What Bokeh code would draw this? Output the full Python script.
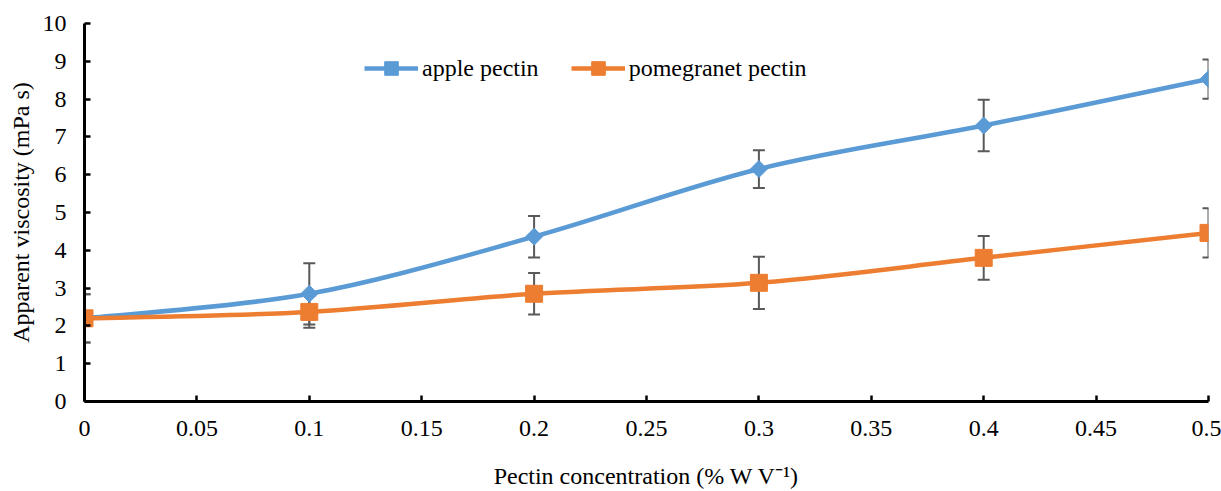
import numpy as np
from bokeh.plotting import figure
from bokeh.models import (ColumnDataSource, Whisker, TeeHead, Legend, LegendItem,
                          FixedTicker, NumeralTickFormatter, Range1d)
from bokeh.embed import file_html
from bokeh.resources import INLINE

# ---- data ----
concentration = [0.0, 0.1, 0.2, 0.3, 0.4, 0.5]
apple = [2.20, 2.85, 4.36, 6.15, 7.30, 8.53]
apple_err = [0.64, 0.81, 0.55, 0.50, 0.68, 0.52]
pomegranate = [2.20, 2.37, 2.85, 3.14, 3.80, 4.46]
pomegranate_err = [0.64, 0.42, 0.55, 0.69, 0.58, 0.65]
x_ticks = [0, 0.05, 0.1, 0.15, 0.2, 0.25, 0.3, 0.35, 0.4, 0.45, 0.5]
y_ticks = list(range(0, 11))

BLUE = "#5B9BD5"
ORANGE = "#ED7D31"
ERR = "#595959"
FONT = "Liberation Serif"
FS = "24px"


def bezier_source(xs, ys):
    """Smooth (Catmull-Rom style) Bezier segments through the data points."""
    xs = np.asarray(xs, float)
    ys = np.asarray(ys, float)
    n = len(xs)
    d = dict(x0=[], y0=[], x1=[], y1=[], cx0=[], cy0=[], cx1=[], cy1=[])
    for i in range(n - 1):
        im = max(i - 1, 0)
        ip2 = min(i + 2, n - 1)
        d["x0"].append(xs[i]); d["y0"].append(ys[i])
        d["x1"].append(xs[i + 1]); d["y1"].append(ys[i + 1])
        d["cx0"].append(xs[i] + (xs[i + 1] - xs[im]) / 6)
        d["cy0"].append(ys[i] + (ys[i + 1] - ys[im]) / 6)
        d["cx1"].append(xs[i + 1] - (xs[ip2] - xs[i]) / 6)
        d["cy1"].append(ys[i + 1] - (ys[ip2] - ys[i]) / 6)
    return ColumnDataSource(d)


p = figure(width=1221, height=491, output_backend="svg", toolbar_location=None,
           x_range=Range1d(0, 0.5), y_range=Range1d(0, 10),
           min_border_left=84, min_border_right=13, min_border_top=23,
           min_border_bottom=90)
p.outline_line_color = None
p.xgrid.visible = False
p.ygrid.visible = False
p.background_fill_color = "white"

# error bars
for vals, errs in ((apple, apple_err), (pomegranate, pomegranate_err)):
    src = ColumnDataSource(dict(
        x=concentration,
        upper=[v + e for v, e in zip(vals, errs)],
        lower=[v - e for v, e in zip(vals, errs)]))
    w = Whisker(base="x", upper="upper", lower="lower", source=src,
                line_color=ERR, line_width=2,
                upper_head=TeeHead(size=12, line_color=ERR, line_width=2),
                lower_head=TeeHead(size=12, line_color=ERR, line_width=2))
    p.add_layout(w)

# apple
a_line = p.bezier(x0="x0", y0="y0", x1="x1", y1="y1", cx0="cx0", cy0="cy0",
                  cx1="cx1", cy1="cy1", source=bezier_source(concentration, apple),
                  line_color=BLUE, line_width=4.5)
a_pts = p.scatter(concentration, apple, marker="square", angle=np.pi / 4, size=12,
                  fill_color=BLUE, line_color=BLUE)
# pomegranate
p_line = p.bezier(x0="x0", y0="y0", x1="x1", y1="y1", cx0="cx0", cy0="cy0",
                  cx1="cx1", cy1="cy1", source=bezier_source(concentration, pomegranate),
                  line_color=ORANGE, line_width=4.5)
p_pts = p.scatter(concentration, pomegranate, marker="square", size=17,
                  fill_color=ORANGE, line_color=ORANGE)

legend = Legend(items=[LegendItem(label="apple pectin", renderers=[a_line, a_pts]),
                       LegendItem(label="pomegranet pectin", renderers=[p_line, p_pts])],
                orientation="horizontal", location=(280, 316),
                glyph_width=54, glyph_height=34, label_height=24, label_standoff=4,
                spacing=32, padding=0, margin=0,
                border_line_alpha=0, background_fill_alpha=0,
                label_text_font=FONT, label_text_font_size=FS,
                label_text_color="#000000")
p.add_layout(legend)

# axes
p.xaxis.ticker = FixedTicker(ticks=x_ticks)
p.xaxis.formatter = NumeralTickFormatter(format="0.[00]")
p.yaxis.ticker = FixedTicker(ticks=y_ticks)
for ax in (p.xaxis, p.yaxis):
    ax.axis_line_color = "black"
    ax.axis_line_width = 3
    ax.major_tick_line_color = "black"
    ax.major_tick_line_width = 2.5
    ax.major_tick_in = 6
    ax.major_tick_out = 0
    ax.minor_tick_line_color = None
    ax.major_label_text_font = FONT
    ax.major_label_text_font_size = FS
    ax.major_label_text_color = "black"
    ax.axis_label_text_font = FONT
    ax.axis_label_text_font_size = FS
    ax.axis_label_text_font_style = "normal"
    ax.axis_label_text_color = "black"

p.xaxis.axis_label = "Pectin concentration (% W V\u207b\u00b9)"
p.yaxis.axis_label = "Apparent viscosity (mPa s)"
p.xaxis.major_label_standoff = 19
p.xaxis.axis_label_standoff = 24
p.yaxis.major_label_standoff = 18
p.yaxis.axis_label_standoff = 6

open("out.html", "w").write(file_html(p, INLINE))
